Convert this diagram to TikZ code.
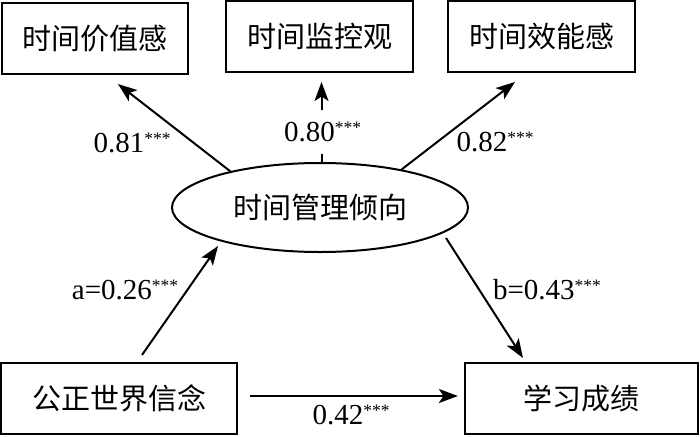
\documentclass[tikz,border=0pt]{standalone}
\usepackage{fontspec}
\setmainfont{Liberation Serif}
\newfontfamily\cjk{Noto Sans CJK SC}
\usetikzlibrary{arrows.meta,shapes.geometric}
\newcommand\sigstars{\raisebox{8pt}{\fontsize{17.5}{17}\selectfont ***}}
\begin{document}
\begin{tikzpicture}[x=1pt,y=-1pt,
  box/.style={draw,line width=2.2pt,inner sep=0pt,minimum height=71pt,font=\fontsize{29}{30}\cjk},
  ell/.style={draw,ellipse,line width=2pt,inner sep=0pt,minimum width=296pt,minimum height=89pt,font=\fontsize{29}{30}\cjk},
  arr/.style={line width=2pt,-{Stealth[length=19pt,width=14pt,inset=4.5pt]}},
  lab/.style={font=\fontsize{29}{30}\selectfont,inner sep=0pt}]
\useasboundingbox (0,0) rectangle (700,436);
\fill[white] (0,0) rectangle (700,436);
% nodes
\node[box,minimum width=186pt] (vb) at (95,38.5) {时间价值感};
\node[box,minimum width=187pt] (mb) at (319.5,36.5) {时间监控观};
\node[box,minimum width=187pt] (eb) at (541.5,36.5) {时间效能感};
\node[ell] (tm) at (320,207.5) {时间管理倾向};
\node[box,minimum width=236pt] (jw) at (119,398.5) {公正世界信念};
\node[box,minimum width=233pt] (ac) at (581.5,398.5) {学习成绩};
% free ends
\coordinate (t1) at (118,84);
\coordinate (t2) at (321.5,82);
\coordinate (t3) at (515,82);
\coordinate (aS) at (142,355);
\coordinate (aE) at (218,246);
\coordinate (bS) at (446,238);
\coordinate (bE) at (523,358);
% connectors
\draw[arr] (tm.158) -- (t1);
\draw[arr] (tm.north -| t2) -- (t2);
\draw[arr] (tm.25) -- (t3);
\draw[arr] (aS) -- (aE);
\draw[arr] (bS) -- (bE);
\draw[arr,shorten <=12pt,shorten >=6pt] (jw.east |- 0,396) -- (ac.west |- 0,396);
% labels
\node[lab] (l1) at (132,143) {0.81\sigstars};
\node[lab,fill=white,inner xsep=2pt,inner ysep=12pt] (l2) at (322.5,132) {0.80\sigstars};
\node[lab] (l3) at (495,142) {0.82\sigstars};
\node[lab] (la) at (125,290) {a=0.26\sigstars};
\node[lab] (lb) at (547,290) {b=0.43\sigstars};
\node[lab] (lc) at (351,415) {0.42\sigstars};
\end{tikzpicture}
\end{document}
